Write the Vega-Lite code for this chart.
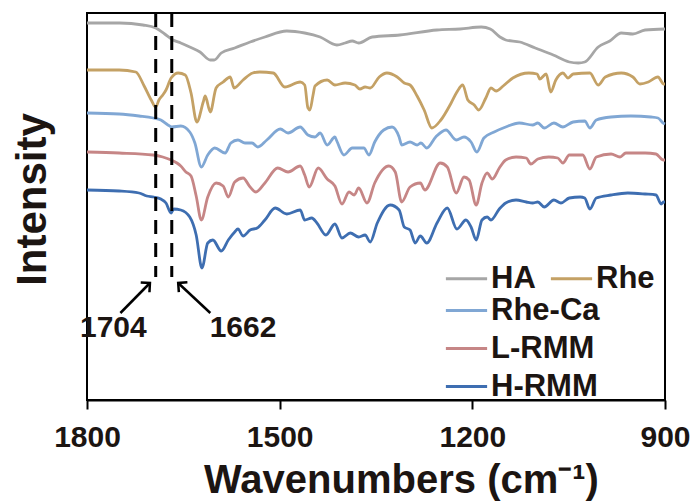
{
  "$schema": "https://vega.github.io/schema/vega-lite/v6.json",
  "width": 578,
  "height": 387,
  "autosize": {"type": "none"},
  "padding": {"left": 87, "top": 13, "right": 33, "bottom": 104},
  "background": "white",
  "config": {
    "view": {"stroke": "#000000", "strokeWidth": 2},
    "font": "Liberation Sans",
    "axis": {"grid": false}
  },
  "datasets": {
    "spectra": [
      {"s":"HA","w":1800,"v":377},{"s":"HA","w":1749,"v":377},{"s":"HA","w":1713,"v":375},{"s":"HA","w":1693,"v":372},{"s":"HA","w":1679,"v":366},{"s":"HA","w":1666,"v":360},{"s":"HA","w":1654,"v":357},{"s":"HA","w":1640,"v":353},{"s":"HA","w":1624,"v":348},{"s":"HA","w":1608,"v":340},{"s":"HA","w":1602,"v":340},{"s":"HA","w":1591,"v":347},{"s":"HA","w":1570,"v":352},{"s":"HA","w":1546,"v":358},{"s":"HA","w":1523,"v":363},{"s":"HA","w":1489,"v":369},{"s":"HA","w":1461,"v":367},{"s":"HA","w":1437,"v":363},{"s":"HA","w":1411,"v":355},{"s":"HA","w":1398,"v":357},{"s":"HA","w":1387,"v":359},{"s":"HA","w":1377,"v":357},{"s":"HA","w":1356,"v":363},{"s":"HA","w":1313,"v":365},{"s":"HA","w":1255,"v":370},{"s":"HA","w":1219,"v":371},{"s":"HA","w":1186,"v":373},{"s":"HA","w":1172,"v":371},{"s":"HA","w":1157,"v":363},{"s":"HA","w":1148,"v":360},{"s":"HA","w":1126,"v":358},{"s":"HA","w":1102,"v":352},{"s":"HA","w":1074,"v":345},{"s":"HA","w":1049,"v":338},{"s":"HA","w":1035,"v":337},{"s":"HA","w":1025,"v":338},{"s":"HA","w":1004,"v":353},{"s":"HA","w":986,"v":359},{"s":"HA","w":968,"v":367},{"s":"HA","w":950,"v":366},{"s":"HA","w":931,"v":370},{"s":"HA","w":900,"v":371},
      {"s":"Rhe","w":1800,"v":330},{"s":"Rhe","w":1750,"v":330},{"s":"Rhe","w":1724,"v":328},{"s":"Rhe","w":1711,"v":314},{"s":"Rhe","w":1700,"v":300},{"s":"Rhe","w":1693,"v":293},{"s":"Rhe","w":1688,"v":300},{"s":"Rhe","w":1682,"v":305},{"s":"Rhe","w":1677,"v":310},{"s":"Rhe","w":1669,"v":322},{"s":"Rhe","w":1658,"v":327},{"s":"Rhe","w":1647,"v":325},{"s":"Rhe","w":1638,"v":307},{"s":"Rhe","w":1629,"v":278},{"s":"Rhe","w":1619,"v":298},{"s":"Rhe","w":1616,"v":304},{"s":"Rhe","w":1608,"v":288},{"s":"Rhe","w":1599,"v":312},{"s":"Rhe","w":1588,"v":318},{"s":"Rhe","w":1577,"v":323},{"s":"Rhe","w":1571,"v":312},{"s":"Rhe","w":1557,"v":320},{"s":"Rhe","w":1542,"v":327},{"s":"Rhe","w":1531,"v":328},{"s":"Rhe","w":1510,"v":327},{"s":"Rhe","w":1492,"v":313},{"s":"Rhe","w":1468,"v":318},{"s":"Rhe","w":1461,"v":315},{"s":"Rhe","w":1456,"v":292},{"s":"Rhe","w":1453,"v":290},{"s":"Rhe","w":1448,"v":305},{"s":"Rhe","w":1445,"v":314},{"s":"Rhe","w":1426,"v":320},{"s":"Rhe","w":1414,"v":315},{"s":"Rhe","w":1398,"v":317},{"s":"Rhe","w":1383,"v":315},{"s":"Rhe","w":1375,"v":311},{"s":"Rhe","w":1367,"v":313},{"s":"Rhe","w":1359,"v":312},{"s":"Rhe","w":1345,"v":323},{"s":"Rhe","w":1333,"v":327},{"s":"Rhe","w":1317,"v":323},{"s":"Rhe","w":1306,"v":317},{"s":"Rhe","w":1297,"v":315},{"s":"Rhe","w":1286,"v":304},{"s":"Rhe","w":1275,"v":290},{"s":"Rhe","w":1263,"v":272},{"s":"Rhe","w":1249,"v":280},{"s":"Rhe","w":1233,"v":297},{"s":"Rhe","w":1224,"v":308},{"s":"Rhe","w":1215,"v":315},{"s":"Rhe","w":1207,"v":300},{"s":"Rhe","w":1197,"v":295},{"s":"Rhe","w":1190,"v":290},{"s":"Rhe","w":1179,"v":302},{"s":"Rhe","w":1171,"v":312},{"s":"Rhe","w":1163,"v":309},{"s":"Rhe","w":1152,"v":314},{"s":"Rhe","w":1137,"v":322},{"s":"Rhe","w":1112,"v":327},{"s":"Rhe","w":1099,"v":326},{"s":"Rhe","w":1095,"v":321},{"s":"Rhe","w":1085,"v":326},{"s":"Rhe","w":1078,"v":308},{"s":"Rhe","w":1070,"v":320},{"s":"Rhe","w":1059,"v":327},{"s":"Rhe","w":1051,"v":322},{"s":"Rhe","w":1043,"v":326},{"s":"Rhe","w":1017,"v":327},{"s":"Rhe","w":1004,"v":315},{"s":"Rhe","w":993,"v":323},{"s":"Rhe","w":968,"v":327},{"s":"Rhe","w":950,"v":323},{"s":"Rhe","w":939,"v":316},{"s":"Rhe","w":926,"v":318},{"s":"Rhe","w":911,"v":323},{"s":"Rhe","w":902,"v":316},{"s":"Rhe","w":900,"v":316},
      {"s":"Rhe-Ca","w":1800,"v":287},{"s":"Rhe-Ca","w":1750,"v":286},{"s":"Rhe-Ca","w":1719,"v":284},{"s":"Rhe-Ca","w":1697,"v":282},{"s":"Rhe-Ca","w":1685,"v":280},{"s":"Rhe-Ca","w":1674,"v":275},{"s":"Rhe-Ca","w":1668,"v":273},{"s":"Rhe-Ca","w":1654,"v":274},{"s":"Rhe-Ca","w":1640,"v":268},{"s":"Rhe-Ca","w":1632,"v":257},{"s":"Rhe-Ca","w":1622,"v":233},{"s":"Rhe-Ca","w":1612,"v":245},{"s":"Rhe-Ca","w":1601,"v":252},{"s":"Rhe-Ca","w":1585,"v":247},{"s":"Rhe-Ca","w":1576,"v":257},{"s":"Rhe-Ca","w":1565,"v":260},{"s":"Rhe-Ca","w":1554,"v":257},{"s":"Rhe-Ca","w":1543,"v":257},{"s":"Rhe-Ca","w":1534,"v":253},{"s":"Rhe-Ca","w":1520,"v":260},{"s":"Rhe-Ca","w":1499,"v":271},{"s":"Rhe-Ca","w":1487,"v":267},{"s":"Rhe-Ca","w":1468,"v":273},{"s":"Rhe-Ca","w":1456,"v":265},{"s":"Rhe-Ca","w":1445,"v":263},{"s":"Rhe-Ca","w":1437,"v":267},{"s":"Rhe-Ca","w":1426,"v":255},{"s":"Rhe-Ca","w":1414,"v":263},{"s":"Rhe-Ca","w":1411,"v":259},{"s":"Rhe-Ca","w":1400,"v":245},{"s":"Rhe-Ca","w":1387,"v":252},{"s":"Rhe-Ca","w":1369,"v":252},{"s":"Rhe-Ca","w":1361,"v":245},{"s":"Rhe-Ca","w":1352,"v":258},{"s":"Rhe-Ca","w":1338,"v":270},{"s":"Rhe-Ca","w":1325,"v":273},{"s":"Rhe-Ca","w":1314,"v":263},{"s":"Rhe-Ca","w":1310,"v":255},{"s":"Rhe-Ca","w":1297,"v":258},{"s":"Rhe-Ca","w":1286,"v":255},{"s":"Rhe-Ca","w":1280,"v":257},{"s":"Rhe-Ca","w":1271,"v":252},{"s":"Rhe-Ca","w":1257,"v":263},{"s":"Rhe-Ca","w":1241,"v":270},{"s":"Rhe-Ca","w":1225,"v":260},{"s":"Rhe-Ca","w":1213,"v":263},{"s":"Rhe-Ca","w":1202,"v":258},{"s":"Rhe-Ca","w":1193,"v":248},{"s":"Rhe-Ca","w":1182,"v":262},{"s":"Rhe-Ca","w":1166,"v":268},{"s":"Rhe-Ca","w":1148,"v":273},{"s":"Rhe-Ca","w":1127,"v":277},{"s":"Rhe-Ca","w":1106,"v":275},{"s":"Rhe-Ca","w":1098,"v":277},{"s":"Rhe-Ca","w":1088,"v":272},{"s":"Rhe-Ca","w":1073,"v":277},{"s":"Rhe-Ca","w":1059,"v":273},{"s":"Rhe-Ca","w":1043,"v":278},{"s":"Rhe-Ca","w":1025,"v":279},{"s":"Rhe-Ca","w":1017,"v":272},{"s":"Rhe-Ca","w":1007,"v":280},{"s":"Rhe-Ca","w":984,"v":283},{"s":"Rhe-Ca","w":953,"v":284},{"s":"Rhe-Ca","w":922,"v":283},{"s":"Rhe-Ca","w":911,"v":282},{"s":"Rhe-Ca","w":903,"v":277},{"s":"Rhe-Ca","w":900,"v":276},
      {"s":"L-RMM","w":1800,"v":248},{"s":"L-RMM","w":1750,"v":247},{"s":"L-RMM","w":1697,"v":245},{"s":"L-RMM","w":1682,"v":243},{"s":"L-RMM","w":1669,"v":240},{"s":"L-RMM","w":1660,"v":237},{"s":"L-RMM","w":1654,"v":234},{"s":"L-RMM","w":1646,"v":228},{"s":"L-RMM","w":1638,"v":224},{"s":"L-RMM","w":1630,"v":204},{"s":"L-RMM","w":1622,"v":180},{"s":"L-RMM","w":1612,"v":203},{"s":"L-RMM","w":1599,"v":217},{"s":"L-RMM","w":1588,"v":214},{"s":"L-RMM","w":1580,"v":203},{"s":"L-RMM","w":1570,"v":218},{"s":"L-RMM","w":1557,"v":222},{"s":"L-RMM","w":1546,"v":213},{"s":"L-RMM","w":1537,"v":208},{"s":"L-RMM","w":1523,"v":217},{"s":"L-RMM","w":1503,"v":232},{"s":"L-RMM","w":1487,"v":228},{"s":"L-RMM","w":1468,"v":234},{"s":"L-RMM","w":1461,"v":225},{"s":"L-RMM","w":1454,"v":213},{"s":"L-RMM","w":1440,"v":232},{"s":"L-RMM","w":1426,"v":221},{"s":"L-RMM","w":1414,"v":214},{"s":"L-RMM","w":1403,"v":196},{"s":"L-RMM","w":1392,"v":208},{"s":"L-RMM","w":1384,"v":205},{"s":"L-RMM","w":1377,"v":212},{"s":"L-RMM","w":1364,"v":197},{"s":"L-RMM","w":1352,"v":217},{"s":"L-RMM","w":1330,"v":234},{"s":"L-RMM","w":1320,"v":228},{"s":"L-RMM","w":1310,"v":198},{"s":"L-RMM","w":1297,"v":213},{"s":"L-RMM","w":1281,"v":217},{"s":"L-RMM","w":1274,"v":210},{"s":"L-RMM","w":1250,"v":237},{"s":"L-RMM","w":1239,"v":233},{"s":"L-RMM","w":1225,"v":207},{"s":"L-RMM","w":1213,"v":223},{"s":"L-RMM","w":1205,"v":220},{"s":"L-RMM","w":1194,"v":195},{"s":"L-RMM","w":1185,"v":217},{"s":"L-RMM","w":1177,"v":227},{"s":"L-RMM","w":1169,"v":221},{"s":"L-RMM","w":1158,"v":232},{"s":"L-RMM","w":1148,"v":240},{"s":"L-RMM","w":1132,"v":243},{"s":"L-RMM","w":1116,"v":242},{"s":"L-RMM","w":1109,"v":236},{"s":"L-RMM","w":1098,"v":241},{"s":"L-RMM","w":1081,"v":243},{"s":"L-RMM","w":1067,"v":242},{"s":"L-RMM","w":1059,"v":237},{"s":"L-RMM","w":1049,"v":245},{"s":"L-RMM","w":1028,"v":245},{"s":"L-RMM","w":1017,"v":231},{"s":"L-RMM","w":1007,"v":243},{"s":"L-RMM","w":984,"v":246},{"s":"L-RMM","w":970,"v":243},{"s":"L-RMM","w":961,"v":247},{"s":"L-RMM","w":931,"v":247},{"s":"L-RMM","w":914,"v":246},{"s":"L-RMM","w":903,"v":240},{"s":"L-RMM","w":900,"v":240},
      {"s":"H-RMM","w":1800,"v":210},{"s":"H-RMM","w":1750,"v":209},{"s":"H-RMM","w":1719,"v":207},{"s":"H-RMM","w":1707,"v":204},{"s":"H-RMM","w":1696,"v":203},{"s":"H-RMM","w":1685,"v":201},{"s":"H-RMM","w":1677,"v":197},{"s":"H-RMM","w":1669,"v":187},{"s":"H-RMM","w":1665,"v":191},{"s":"H-RMM","w":1654,"v":190},{"s":"H-RMM","w":1640,"v":183},{"s":"H-RMM","w":1630,"v":165},{"s":"H-RMM","w":1621,"v":132},{"s":"H-RMM","w":1612,"v":157},{"s":"H-RMM","w":1604,"v":160},{"s":"H-RMM","w":1591,"v":149},{"s":"H-RMM","w":1580,"v":160},{"s":"H-RMM","w":1570,"v":168},{"s":"H-RMM","w":1565,"v":171},{"s":"H-RMM","w":1557,"v":164},{"s":"H-RMM","w":1546,"v":170},{"s":"H-RMM","w":1535,"v":172},{"s":"H-RMM","w":1523,"v":180},{"s":"H-RMM","w":1507,"v":192},{"s":"H-RMM","w":1489,"v":186},{"s":"H-RMM","w":1468,"v":190},{"s":"H-RMM","w":1461,"v":180},{"s":"H-RMM","w":1450,"v":182},{"s":"H-RMM","w":1442,"v":177},{"s":"H-RMM","w":1428,"v":165},{"s":"H-RMM","w":1414,"v":176},{"s":"H-RMM","w":1403,"v":162},{"s":"H-RMM","w":1390,"v":167},{"s":"H-RMM","w":1377,"v":163},{"s":"H-RMM","w":1367,"v":165},{"s":"H-RMM","w":1359,"v":158},{"s":"H-RMM","w":1348,"v":177},{"s":"H-RMM","w":1328,"v":195},{"s":"H-RMM","w":1314,"v":190},{"s":"H-RMM","w":1306,"v":173},{"s":"H-RMM","w":1297,"v":170},{"s":"H-RMM","w":1289,"v":157},{"s":"H-RMM","w":1281,"v":164},{"s":"H-RMM","w":1271,"v":157},{"s":"H-RMM","w":1255,"v":177},{"s":"H-RMM","w":1239,"v":192},{"s":"H-RMM","w":1224,"v":171},{"s":"H-RMM","w":1210,"v":180},{"s":"H-RMM","w":1202,"v":173},{"s":"H-RMM","w":1194,"v":160},{"s":"H-RMM","w":1185,"v":180},{"s":"H-RMM","w":1177,"v":183},{"s":"H-RMM","w":1171,"v":180},{"s":"H-RMM","w":1158,"v":191},{"s":"H-RMM","w":1148,"v":197},{"s":"H-RMM","w":1132,"v":200},{"s":"H-RMM","w":1116,"v":198},{"s":"H-RMM","w":1106,"v":197},{"s":"H-RMM","w":1098,"v":198},{"s":"H-RMM","w":1088,"v":193},{"s":"H-RMM","w":1073,"v":200},{"s":"H-RMM","w":1062,"v":197},{"s":"H-RMM","w":1049,"v":202},{"s":"H-RMM","w":1032,"v":203},{"s":"H-RMM","w":1025,"v":202},{"s":"H-RMM","w":1017,"v":191},{"s":"H-RMM","w":1007,"v":202},{"s":"H-RMM","w":984,"v":205},{"s":"H-RMM","w":958,"v":207},{"s":"H-RMM","w":931,"v":206},{"s":"H-RMM","w":914,"v":205},{"s":"H-RMM","w":906,"v":196},{"s":"H-RMM","w":902,"v":198},{"s":"H-RMM","w":900,"v":198}
    ],
    "marks": [
      {"w": 1693, "v": 387, "v2": 123},
      {"w": 1668, "v": 387, "v2": 123}
    ],
    "arrows": [
      {"w": 1748, "v": 87, "w2": 1702, "v2": 117},
      {"w": 1608, "v": 87, "w2": 1658, "v2": 117}
    ],
    "labels": [
      {"w": 1759, "v": 72, "t": "1704"},
      {"w": 1557, "v": 72, "t": "1662"}
    ]
  },
  "encoding": {
    "x": {
      "field": "w", "type": "quantitative",
      "scale": {"domain": [900, 1800], "reverse": true, "nice": false, "zero": false},
      "axis": {
        "values": [1800, 1500, 1200, 900], "format": "d",
        "title": "Wavenumbers (cm⁻¹)",
        "domainColor": "#000000", "domainWidth": 2,
        "tickColor": "#000000", "tickWidth": 2, "tickSize": 9,
        "labelFont": "Liberation Sans", "labelFontSize": 30, "labelFontWeight": "bold", "labelColor": "#1c1512",
        "labelPadding": 13, "labelFlush": false, "labelOverlap": false, "labelBound": false,
        "titleFont": "Liberation Sans", "titleFontSize": 40, "titleFontWeight": "bold", "titleColor": "#1c1512",
        "titlePadding": 8, "titleX": 314
      }
    },
    "y": {
      "field": "v", "type": "quantitative",
      "scale": {"domain": [0, 387], "nice": false, "zero": false},
      "axis": {
        "title": "Intensity", "ticks": false, "labels": false, "domain": false,
        "titleFont": "Liberation Sans", "titleFontSize": 42, "titleFontWeight": "bold", "titleColor": "#1c1512",
        "titlePadding": 33, "titleY": 186
      }
    }
  },
  "layer": [
    {
      "data": {"name": "spectra"},
      "transform": [{"filter": {"field": "s", "oneOf": ["HA", "Rhe"]}}],
      "mark": {"type": "line", "strokeWidth": 2.8, "interpolate": "monotone"},
      "encoding": {
        "color": {
          "field": "s", "type": "nominal",
          "scale": {"domain": ["HA", "Rhe"], "range": ["#a6a6a6", "#c4a165"]},
          "legend": {
            "orient": "none", "legendX": 357, "legendY": 243, "direction": "horizontal",
            "title": null, "padding": 0, "symbolType": "stroke", "symbolSize": 1700, "symbolStrokeWidth": 3,
            "labelFont": "Liberation Sans", "labelFontSize": 31, "labelFontWeight": "bold", "labelColor": "#1c1512",
            "labelOffset": 2, "columnPadding": 8, "labelLimit": 300
          }
        }
      }
    },
    {
      "data": {"name": "spectra"},
      "transform": [{"filter": {"field": "s", "oneOf": ["Rhe-Ca", "L-RMM", "H-RMM"]}}],
      "mark": {"type": "line", "strokeWidth": 2.8, "interpolate": "monotone"},
      "encoding": {
        "stroke": {
          "field": "s", "type": "nominal",
          "scale": {"domain": ["Rhe-Ca", "L-RMM", "H-RMM"], "range": ["#80a7d4", "#c68686", "#3e6eb1"]},
          "legend": {
            "orient": "none", "legendX": 357, "legendY": 275, "direction": "vertical",
            "title": null, "padding": 0, "symbolType": "stroke", "symbolSize": 1700, "symbolStrokeWidth": 3,
            "labelFont": "Liberation Sans", "labelFontSize": 31, "labelFontWeight": "bold", "labelColor": "#1c1512",
            "labelOffset": 2, "rowPadding": -3, "labelLimit": 300
          }
        }
      }
    },
    {
      "data": {"name": "marks"},
      "mark": {"type": "rule", "color": "#000000", "strokeWidth": 3, "strokeDash": [14, 9]},
      "encoding": {"y2": {"field": "v2"}}
    },
    {
      "data": {"name": "arrows"},
      "mark": {"type": "rule", "color": "#000000", "strokeWidth": 2.5},
      "encoding": {"x2": {"field": "w2"}, "y2": {"field": "v2"}}
    },
    {
      "data": {"name": "arrows"},
      "transform": [{"filter": "datum.w > 1700"}],
      "mark": {"type": "point", "shape": "M-1,1L0,0L1,1", "size": 170, "filled": false, "stroke": "#000000", "strokeWidth": 2.5, "angle": 48, "opacity": 1},
      "encoding": {"x": {"field": "w2", "type": "quantitative"}, "y": {"field": "v2", "type": "quantitative"}}
    },
    {
      "data": {"name": "arrows"},
      "transform": [{"filter": "datum.w < 1700"}],
      "mark": {"type": "point", "shape": "M-1,1L0,0L1,1", "size": 170, "filled": false, "stroke": "#000000", "strokeWidth": 2.5, "angle": 311, "opacity": 1},
      "encoding": {"x": {"field": "w2", "type": "quantitative"}, "y": {"field": "v2", "type": "quantitative"}}
    },
    {
      "data": {"name": "labels"},
      "mark": {"type": "text", "font": "Liberation Sans", "fontSize": 30, "fontWeight": "bold", "color": "#1c1512", "align": "center", "baseline": "middle"},
      "encoding": {"text": {"field": "t"}}
    }
  ]
}
